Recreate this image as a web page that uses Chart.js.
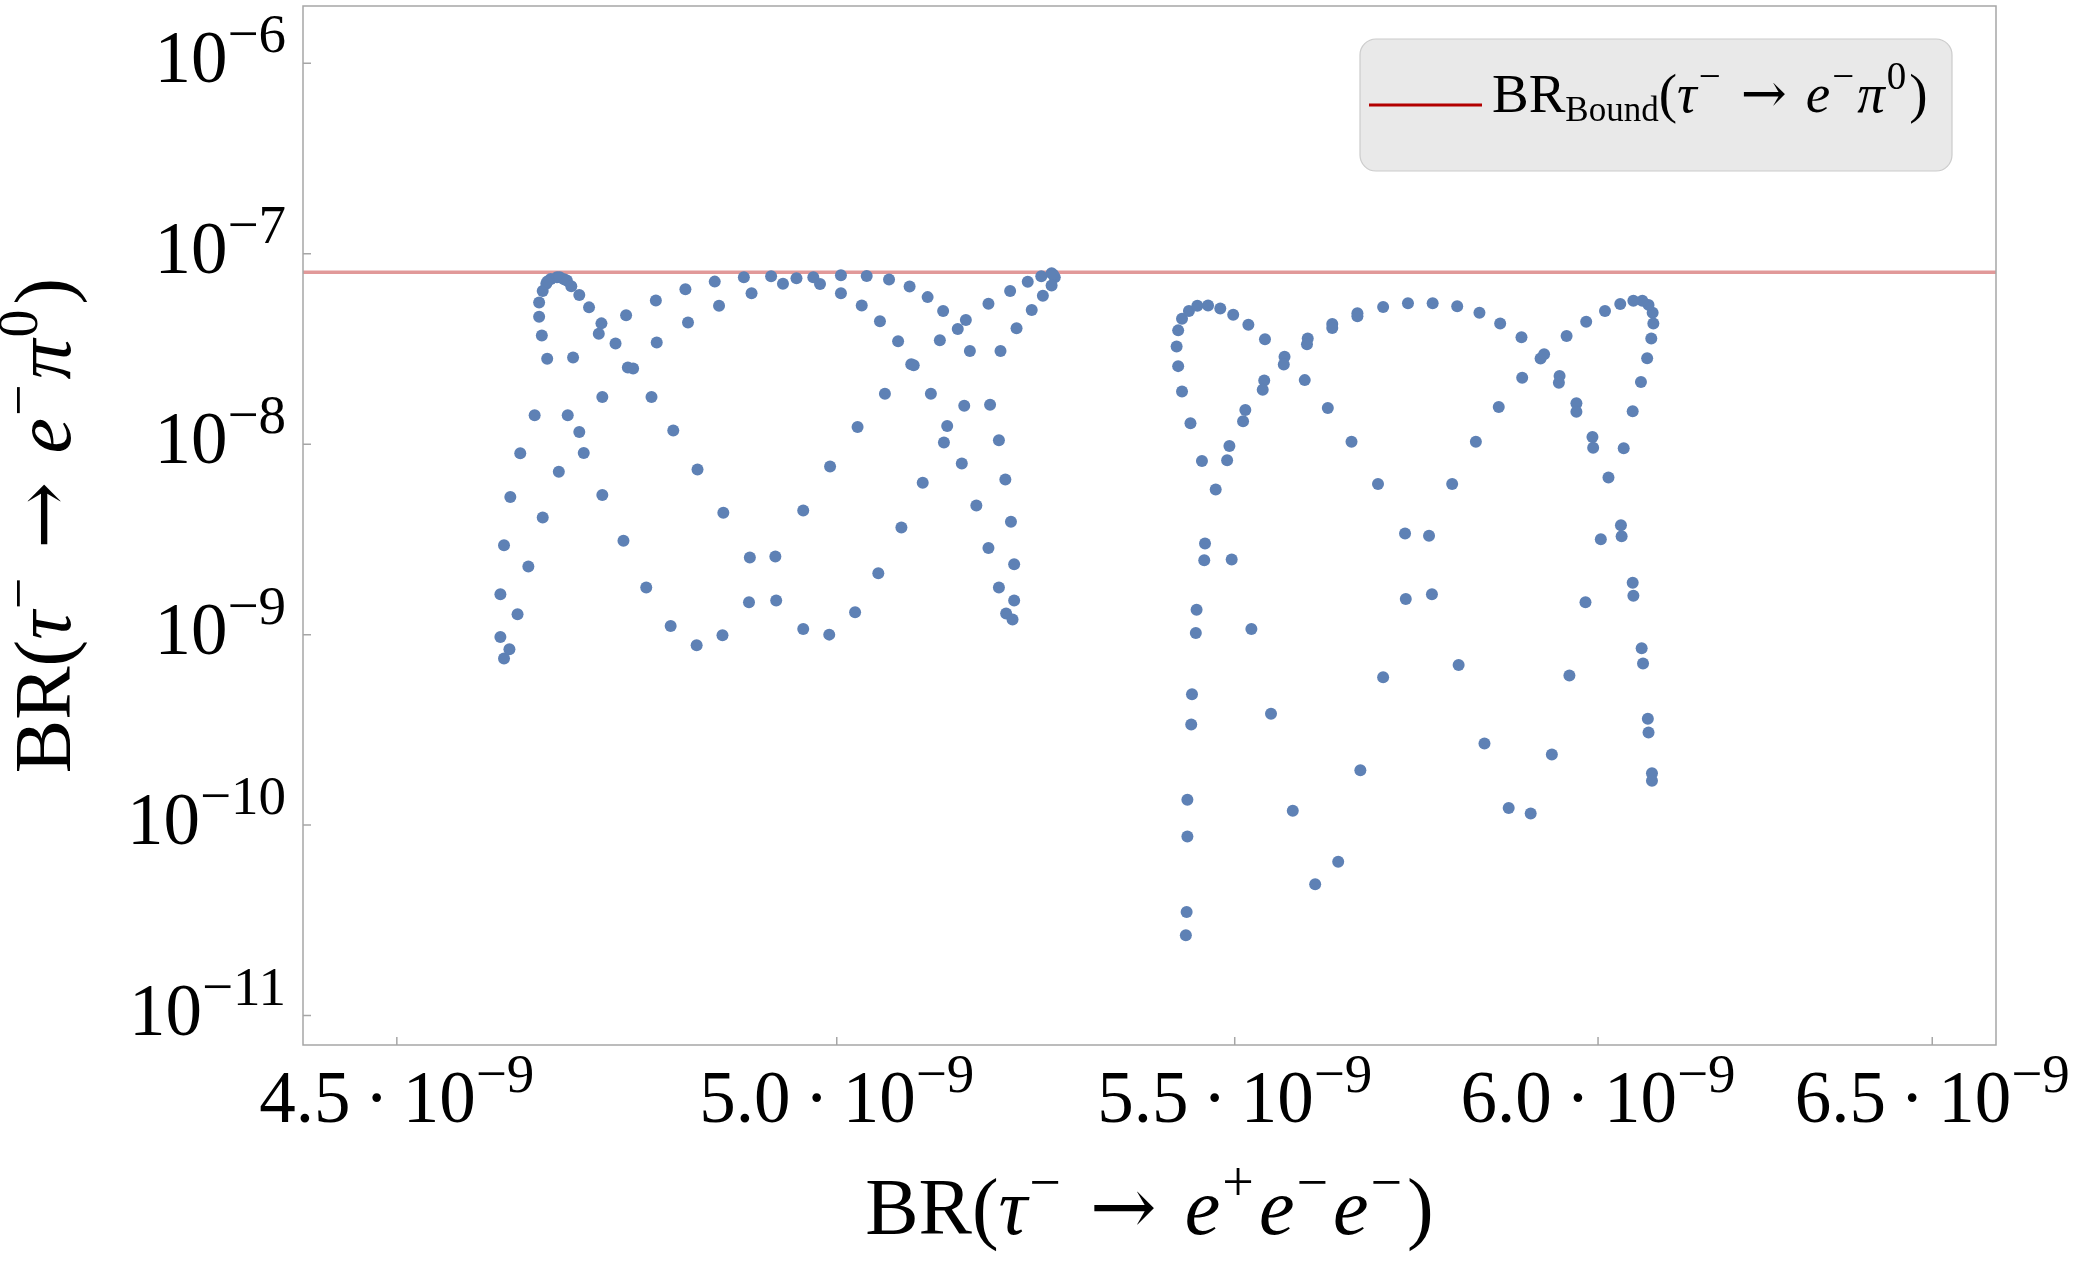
<!DOCTYPE html>
<html>
<head>
<meta charset="utf-8">
<script src="https://cdn.jsdelivr.net/npm/chart.js@4/dist/chart.umd.min.js"></script>
<style>
  html, body { margin: 0; padding: 0; background: #ffffff; }
  canvas { display: block; }
</style>
</head>
<body>
<canvas id="brChart" width="2084" height="1271"></canvas>
<script>
// axis ranges and ticks (both axes logarithmic)
const xRange = [4.4e-9, 6.6e-9];
const yRange = [7e-12, 2e-6];
const xTicks = [4.5e-9, 5.0e-9, 5.5e-9, 6.0e-9, 6.5e-9];
const yTicks = [1e-6, 1e-7, 1e-8, 1e-9, 1e-10, 1e-11];

// experimental bound on BR(tau -> e pi0)
const boundBR = 8.0e-8;

// left branch: BR(tau -> 3e) in units of 1e-9, and BR(tau -> e pi0)
const leftEEE = [
  4.617, 4.623, 4.613, 4.632, 4.613, 4.644, 4.617, 4.660, 4.624, 4.678,
  4.635, 4.706, 4.701, 4.651, 4.688, 4.727, 4.751, 4.777, 4.805, 4.835,
  4.865, 4.896, 4.928, 4.897, 4.927, 4.866, 4.836, 4.808, 4.783, 4.727,
  4.756, 4.762, 4.665, 4.694, 4.659, 4.656, 4.656, 4.660, 4.664, 4.669,
  4.676, 4.684, 4.665, 4.679, 4.687, 4.692, 4.701, 4.712, 4.726, 4.723,
  4.742, 4.754, 4.788, 4.789, 4.822, 4.825, 4.856, 4.861, 4.890, 4.899,
  4.922, 4.936, 4.952, 4.972, 4.980, 5.005, 5.005, 5.036, 5.063, 5.088,
  5.110, 5.129, 5.157, 5.147, 5.125, 5.162, 5.200, 5.185, 5.212, 5.234,
  5.251, 5.264, 5.268, 5.266, 5.264, 5.253, 5.239, 5.220, 5.030, 5.052,
  5.074, 5.093, 5.090, 5.058, 5.114, 5.155, 5.187, 5.134, 5.130, 5.198,
  5.152, 5.206, 5.170, 5.213, 5.185, 5.217, 5.198, 5.217, 5.207, 5.215,
  5.025, 4.992, 4.960, 5.104, 5.078, 5.050, 5.022, 4.991, 4.960
];
const leftEPi = [
  7.49e-10, 8.38e-10, 9.72e-10, 1.28e-9, 1.63e-9, 2.28e-9, 2.95e-9, 4.12e-9, 5.28e-9, 7.16e-9,
  8.97e-9, 9.0e-9, 1.16e-8, 1.42e-8, 1.42e-8, 5.41e-9, 3.11e-9, 1.77e-9, 1.11e-9, 8.80e-10,
  9.92e-10, 1.48e-9, 1.51e-9, 2.54e-9, 2.57e-9, 4.37e-9, 7.36e-9, 1.18e-8, 1.77e-8, 1.77e-8,
  2.53e-8, 2.50e-8, 2.81e-8, 2.85e-8, 3.72e-8, 4.67e-8, 5.55e-8, 6.37e-8, 6.95e-8, 7.38e-8,
  7.53e-8, 7.35e-8, 7.14e-8, 7.53e-8, 7.23e-8, 6.76e-8, 6.07e-8, 5.23e-8, 4.31e-8, 3.80e-8,
  3.38e-8, 4.75e-8, 5.69e-8, 3.42e-8, 6.52e-8, 4.36e-8, 7.14e-8, 5.33e-8, 7.53e-8, 6.21e-8,
  7.62e-8, 6.95e-8, 7.44e-8, 7.53e-8, 6.93e-8, 7.72e-8, 6.21e-8, 7.65e-8, 7.32e-8, 6.73e-8,
  5.92e-8, 5.00e-8, 4.49e-8, 4.03e-8, 3.51e-8, 3.09e-8, 3.09e-8, 5.46e-8, 6.37e-8, 7.12e-8,
  7.62e-8, 7.90e-8, 7.53e-8, 7.77e-8, 6.81e-8, 6.02e-8, 5.07e-8, 4.06e-8, 5.35e-8, 4.42e-8,
  3.47e-8, 2.60e-8, 2.63e-8, 1.84e-8, 1.84e-8, 1.59e-8, 1.61e-8, 1.245e-8, 1.02e-8, 1.05e-8,
  7.91e-9, 6.53e-9, 4.77e-9, 3.91e-9, 2.85e-9, 2.34e-9, 1.77e-9, 1.51e-9, 1.29e-9, 1.20e-9,
  1.23e-8, 7.63e-9, 4.49e-9, 6.27e-9, 3.65e-9, 2.10e-9, 1.31e-9, 1.00e-9, 1.07e-9
];

// right branch
const rightEEE = [
  5.424, 5.426, 5.431, 5.440, 5.451, 5.465, 5.481, 5.498, 5.518, 5.540,
  5.566, 5.565, 5.597, 5.596, 5.630, 5.630, 5.664, 5.664, 5.699, 5.733,
  5.426, 5.431, 5.442, 5.457, 5.475, 5.493, 5.490, 5.514, 5.511, 5.539,
  5.537, 5.593, 5.624, 5.656, 5.692, 5.729, 5.730, 5.699, 5.668, 5.638,
  5.607, 5.577, 5.548, 5.522, 5.496, 5.461, 5.460, 5.450, 5.449, 5.444,
  5.443, 5.438, 5.438, 5.437, 5.436,
  5.767, 5.801, 5.832, 5.861, 5.891, 5.918, 5.923, 5.892, 5.945, 5.944,
  5.969, 5.969, 5.992, 5.993, 6.015, 6.033, 6.034, 6.050, 6.051, 6.063,
  6.065, 6.072, 6.073, 6.078, 6.078, 6.037, 6.050, 6.062, 6.071, 6.077,
  6.080, 6.079, 6.073, 6.064, 6.051, 6.032, 6.010, 5.983, 5.955, 5.859,
  5.827, 5.794, 5.762, 5.766, 5.803, 5.839, 5.873, 5.904, 5.934, 5.959,
  5.982, 6.004
];
const rightEPi = [
  3.26e-8, 3.96e-8, 4.56e-8, 5.00e-8, 5.33e-8, 5.35e-8, 5.16e-8, 4.78e-8, 4.24e-8, 3.56e-8,
  2.88e-8, 2.62e-8, 3.59e-8, 3.35e-8, 4.28e-8, 4.08e-8, 4.87e-8, 4.70e-8, 5.25e-8, 5.50e-8,
  2.57e-8, 1.89e-8, 1.29e-8, 8.15e-9, 5.78e-9, 9.79e-9, 8.24e-9, 1.51e-8, 1.32e-8, 2.16e-8,
  1.93e-8, 2.17e-8, 1.55e-8, 1.03e-8, 6.18e-9, 3.40e-9, 1.54e-9, 5.97e-10, 1.94e-10, 6.41e-11,
  4.89e-11, 1.19e-10, 3.84e-10, 1.07e-9, 2.48e-9, 3.01e-9, 2.46e-9, 1.35e-9, 1.02e-9, 4.87e-10,
  3.37e-10, 1.36e-10, 8.72e-11, 3.50e-11, 2.64e-11,
  5.50e-8, 5.30e-8, 4.90e-8, 4.30e-8, 3.64e-8, 2.82e-8, 2.97e-8, 2.23e-8, 2.28e-8, 2.10e-8,
  1.64e-8, 1.48e-8, 1.09e-8, 9.58e-9, 6.68e-9, 3.75e-9, 3.29e-9, 1.87e-9, 1.60e-9, 8.48e-10,
  7.06e-10, 3.62e-10, 3.06e-10, 1.87e-10, 1.71e-10, 9.53e-9, 1.49e-8, 2.12e-8, 2.83e-8, 3.59e-8,
  4.30e-8, 4.90e-8, 5.39e-8, 5.67e-8, 5.67e-8, 5.44e-8, 5.00e-8, 4.40e-8, 3.70e-8, 1.57e-8,
  1.03e-8, 6.18e-9, 3.31e-9, 1.63e-9, 6.92e-10, 2.68e-10, 1.23e-10, 1.15e-10, 2.35e-10, 6.10e-10,
  1.48e-9, 3.17e-9
];

const NANO = 1e-9;
const SERIF = '"Liberation Serif", "DejaVu Serif", serif';
const ARROW_FONT = '"DejaVu Serif", serif';
const pointColor = '#5e81b5';
const boundColor = '#b30000';
const frameColor = '#a6a6a6';

function toPoints(xs, ys) {
    return xs.map((v, i) => ({ x: v * NANO, y: ys[i] }));
}

// rich text: list of runs {t, size, it, dy, pre, gap, fam}
function setRunFont(ctx, r) {
    ctx.font = (r.it ? 'italic ' : '') + r.size + 'px ' + (r.fam || SERIF);
}

function runsWidth(ctx, runs) {
    let w = 0;
    runs.forEach(r => {
        setRunFont(ctx, r);
        w += (r.pre || 0) + ctx.measureText(r.t).width + (r.gap || 0);
    });
    return w;
}

function drawRuns(ctx, runs, x, y, align) {
    const w = runsWidth(ctx, runs);
    let cx = x;
    if (align === 'center') cx = x - w / 2;
    if (align === 'right') cx = x - w;
    ctx.textAlign = 'left';
    ctx.textBaseline = 'alphabetic';
    runs.forEach(r => {
        setRunFont(ctx, r);
        cx += r.pre || 0;
        ctx.fillText(r.t, cx, y + (r.dy || 0));
        cx += ctx.measureText(r.t).width + (r.gap || 0);
    });
}

// formula pieces, scaled by a base size
function supRun(t, s) { return { t: t, size: Math.round(s * 0.7), dy: -Math.round(s * 0.41), gap: Math.round(s * 0.06) }; }
function itRun(t, s) { return { t: t, size: s, it: true, gap: Math.round(s * 0.03) }; }
function arrowRun(s) { return { t: '\u2192', size: s, fam: ARROW_FONT, pre: Math.round(s * 0.3), gap: Math.round(s * 0.35) }; }

const decorPlugin = {
    id: 'decor',
    afterDraw(chart) {
        const ctx = chart.ctx;
        const area = chart.chartArea;
        const xs = chart.scales.x;
        const ys = chart.scales.y;
        ctx.save();

        // frame
        ctx.strokeStyle = frameColor;
        ctx.lineWidth = 1.5;
        ctx.strokeRect(area.left, area.top, area.right - area.left, area.bottom - area.top);

        // inward ticks
        ctx.beginPath();
        xTicks.forEach(v => {
            const px = xs.getPixelForValue(v);
            ctx.moveTo(px, area.bottom);
            ctx.lineTo(px, area.bottom - 8);
        });
        yTicks.forEach(v => {
            const py = ys.getPixelForValue(v);
            ctx.moveTo(area.left, py);
            ctx.lineTo(area.left + 8, py);
        });
        ctx.stroke();

        ctx.fillStyle = '#000000';

        // y tick labels
        yTicks.forEach(v => {
            const py = ys.getPixelForValue(v);
            const p = Math.round(Math.log10(v));
            drawRuns(ctx, [
                { t: '10', size: 73 },
                { t: '\u2212' + Math.abs(p), size: 55, dy: -30 }
            ], area.left - 17, py + 19, 'right');
        });

        // x tick labels
        xTicks.forEach(v => {
            const px = xs.getPixelForValue(v);
            drawRuns(ctx, [
                { t: (v / NANO).toFixed(1), size: 73 },
                { t: '\u00b7', size: 73, pre: 14, gap: 14 },
                { t: '10', size: 73 },
                { t: '\u22129', size: 55, dy: -30 }
            ], px, 1122, 'center');
        });

        // x axis title
        const T = 80;
        const midX = (area.left + area.right) / 2;
        drawRuns(ctx, [
            { t: 'BR(', size: T },
            itRun('\u03c4', T),
            supRun('\u2212', T),
            arrowRun(T),
            itRun('e', T),
            supRun('+', T),
            itRun('e', T),
            supRun('\u2212', T),
            itRun('e', T),
            supRun('\u2212', T),
            { t: ')', size: T }
        ], midX, 1234, 'center');

        // y axis title (rotated)
        const midY = (area.top + area.bottom) / 2;
        ctx.save();
        ctx.translate(70, midY);
        ctx.rotate(-Math.PI / 2);
        drawRuns(ctx, [
            { t: 'BR(', size: T },
            itRun('\u03c4', T),
            supRun('\u2212', T),
            arrowRun(T),
            itRun('e', T),
            supRun('\u2212', T),
            itRun('\u03c0', T),
            supRun('0', T),
            { t: ')', size: T }
        ], 0, 0, 'center');
        ctx.restore();

        // legend box
        ctx.beginPath();
        ctx.roundRect(1360, 39, 592, 132, 16);
        ctx.fillStyle = '#e9e9e9';
        ctx.fill();
        ctx.strokeStyle = '#cccccc';
        ctx.lineWidth = 1.2;
        ctx.stroke();

        ctx.beginPath();
        ctx.moveTo(1369, 105);
        ctx.lineTo(1482, 105);
        ctx.strokeStyle = boundColor;
        ctx.lineWidth = 3;
        ctx.stroke();

        const L = 55;
        ctx.fillStyle = '#000000';
        drawRuns(ctx, [
            { t: 'BR', size: L },
            { t: 'Bound', size: 35, dy: 9 },
            { t: '(', size: L },
            itRun('\u03c4', L),
            supRun('\u2212', L),
            arrowRun(L),
            itRun('e', L),
            supRun('\u2212', L),
            itRun('\u03c0', L),
            supRun('0', L),
            { t: ')', size: L }
        ], 1492, 112, 'left');

        ctx.restore();
    }
};

const ctx = document.getElementById('brChart').getContext('2d');
const brChart = new Chart(ctx, {
    type: 'scatter',
    data: {
        datasets: [
            {
                label: 'left branch',
                data: toPoints(leftEEE, leftEPi),
                backgroundColor: pointColor,
                borderWidth: 0,
                pointRadius: 6,
                order: 1
            },
            {
                label: 'right branch',
                data: toPoints(rightEEE, rightEPi),
                backgroundColor: pointColor,
                borderWidth: 0,
                pointRadius: 6,
                order: 1
            },
            {
                type: 'line',
                label: 'bound',
                data: [{ x: xRange[0], y: boundBR }, { x: xRange[1], y: boundBR }],
                borderColor: 'rgba(179, 0, 0, 0.4)',
                borderWidth: 3.5,
                pointRadius: 0,
                fill: false,
                order: 2
            }
        ]
    },
    options: {
        responsive: false,
        animation: false,
        devicePixelRatio: 1,
        layout: { padding: { top: 1, right: 88, left: 0, bottom: 0 } },
        plugins: {
            legend: { display: false },
            tooltip: { enabled: false }
        },
        scales: {
            x: {
                type: 'logarithmic',
                min: xRange[0],
                max: xRange[1],
                afterBuildTicks: s => { s.ticks = xTicks.map(v => ({ value: v })); },
                afterFit: s => { s.height = 226; },
                ticks: { display: false },
                grid: { display: false },
                border: { display: false }
            },
            y: {
                type: 'logarithmic',
                min: yRange[0],
                max: yRange[1],
                afterBuildTicks: s => { s.ticks = yTicks.map(v => ({ value: v })); },
                afterFit: s => { s.width = 303; },
                ticks: { display: false },
                grid: { display: false },
                border: { display: false }
            }
        }
    },
    plugins: [decorPlugin]
});
</script>
</body>
</html>
